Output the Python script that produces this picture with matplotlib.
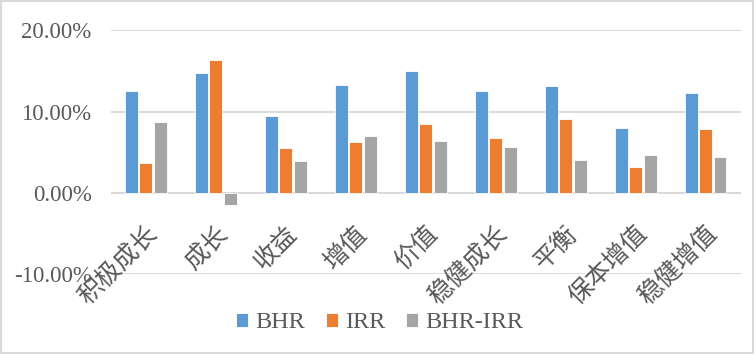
import matplotlib
matplotlib.use("Agg")
import matplotlib.pyplot as plt
import numpy as np
from matplotlib.patches import Rectangle
from matplotlib.ticker import FuncFormatter, MultipleLocator

plt.rcParams["font.family"] = ["Liberation Serif", "Noto Sans CJK SC", "DejaVu Sans"]

CATEGORIES = ["积极成长", "成长", "收益", "增值", "价值", "稳健成长", "平衡", "保本增值", "稳健增值"]
BHR = [12.5, 14.8, 9.5, 13.3, 15.0, 12.5, 13.2, 8.0, 12.3]
IRR = [3.7, 16.3, 5.5, 6.3, 8.5, 6.75, 9.1, 3.2, 7.8]
BHR_IRR = [8.7, -1.5, 3.9, 6.95, 6.4, 5.7, 4.0, 4.7, 4.45]
SERIES = ["BHR", "IRR", "BHR-IRR"]

COLORS = ["#5B9BD5", "#ED7D31", "#A5A5A5"]
TEXT = "#595959"
GRID = "#D9D9D9"

fig = plt.figure(figsize=(7.55, 3.54), dpi=100)
fig.patches.append(Rectangle((0.001, 0.002), 0.997, 0.995, transform=fig.transFigure,
                             fill=False, edgecolor="#D9D9D9", linewidth=1.5))
ax = fig.add_axes([0.147, 0.226, 0.834, 0.688])

x = np.arange(len(CATEGORIES))
width = 0.185
step = 0.205
for k, (values, color) in enumerate(zip([BHR, IRR, BHR_IRR], COLORS)):
    ax.bar(x + (k - 1) * step, values, width, color=color, edgecolor="white",
           linewidth=0.6, label=SERIES[k], zorder=3)

ax.set_xlim(-0.5, len(CATEGORIES) - 0.5)
ax.set_ylim(-10, 20)
ax.yaxis.set_major_locator(MultipleLocator(10))
ax.yaxis.set_major_formatter(FuncFormatter(lambda v, p: f"{v:.2f}%"))
ax.grid(axis="y", color=GRID, linewidth=1.3, zorder=0)
ax.axhline(0, color=GRID, linewidth=1.3, zorder=2)
ax.tick_params(axis="y", length=0, labelsize=16.5, labelcolor=TEXT, pad=14)
ax.set_xticks([])
for side in ax.spines.values():
    side.set_visible(False)

for i, name in enumerate(CATEGORIES):
    ax.annotate(name, xy=(i, 0), xytext=(-1, -20), textcoords="offset points",
                rotation=45, rotation_mode="anchor", ha="right", va="top",
                fontsize=18, color=TEXT, family=["Noto Sans CJK SC", "DejaVu Sans"],
                fontweight="light", annotation_clip=False)

ax.legend(loc="center", bbox_to_anchor=(0.503, 0.088), bbox_transform=fig.transFigure,
          ncol=3, frameon=False, fontsize=17.5, handlelength=0.5, handleheight=0.5,
          handletextpad=0.3, columnspacing=0.85, labelcolor=TEXT)

fig.savefig("out.png", dpi=100)
